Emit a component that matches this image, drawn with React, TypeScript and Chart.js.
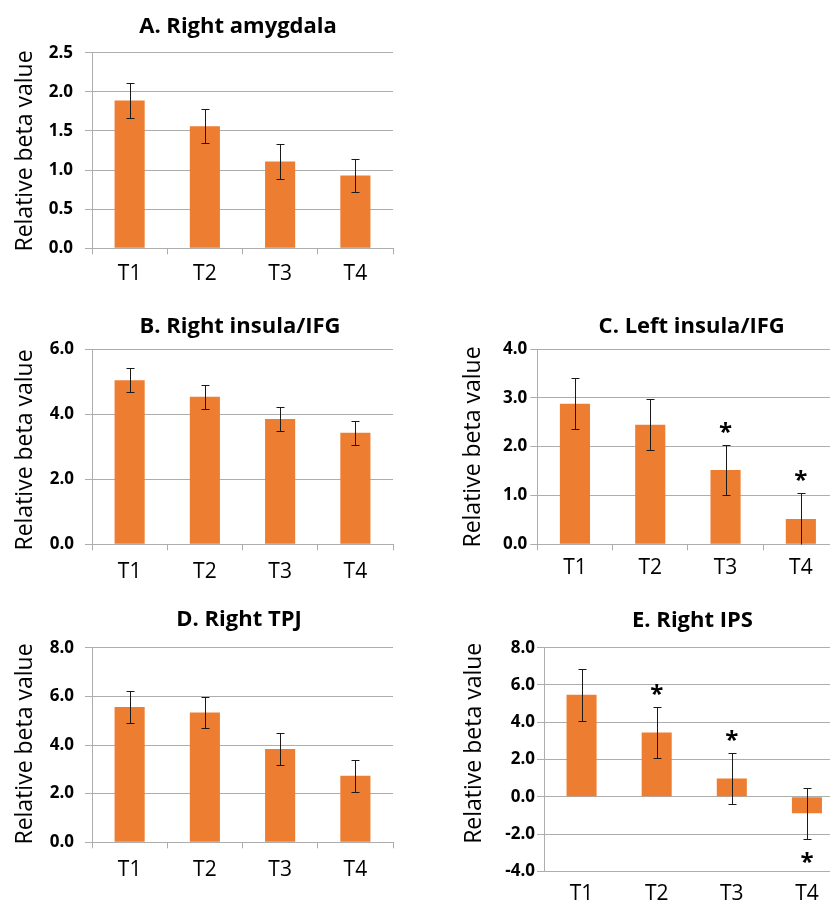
import React, { useEffect, useRef } from "react";
import { Chart, registerables } from "chart.js";

Chart.register(...registerables);

// ---------------- data ----------------
const categories = ["T1", "T2", "T3", "T4"];
const axisTitle = "Relative beta value";

const valuesA = [1.89, 1.56, 1.11, 0.93];
const errorsA = [0.22, 0.22, 0.22, 0.21];
const starsA = [false, false, false, false];

const valuesB = [5.04, 4.53, 3.85, 3.43];
const errorsB = [0.37, 0.36, 0.37, 0.37];
const starsB = [false, false, false, false];

const valuesC = [2.88, 2.45, 1.52, 0.52];
const errorsC = [0.52, 0.52, 0.51, 0.53];
const starsC = [false, false, true, true];

const valuesD = [5.56, 5.34, 3.84, 2.74];
const errorsD = [0.66, 0.65, 0.66, 0.66];
const starsD = [false, false, false, false];

const valuesE = [5.47, 3.45, 0.98, -0.89];
const errorsE = [1.41, 1.39, 1.38, 1.37];
const starsE = [false, true, true, true];

// ---------------- styling ----------------
const FONT = "'Open Sans', Lato, sans-serif";
const BAR = "#ED7D31";
const GRID = "#ADADAD";
const INK = "#000000";
const CW = 870;
const CH = 905;

type Panel = {
  title: string;
  values: number[];
  errors: number[];
  stars: boolean[];
  yMin: number;
  yMax: number;
  yStep: number;
  L: number;
  R: number;
  T: number;
  B: number;
  tx: number;
  ty: number;
  ax: number;
  ay: number;
  tickPad: number;
  labelPad: number;
  xTicks: boolean;
};

const panels: Panel[] = [
  {
    title: "A. Right amygdala", values: valuesA, errors: errorsA, stars: starsA,
    yMin: 0, yMax: 2.5, yStep: 0.5,
    L: 92, R: 393, T: 52.7, B: 248.3, tx: 238, ty: 33.3, ax: 31.7, ay: 151,
    tickPad: 12, labelPad: 7.5, xTicks: true,
  },
  {
    title: "B. Right insula/IFG", values: valuesB, errors: errorsB, stars: starsB,
    yMin: 0, yMax: 6, yStep: 2,
    L: 92, R: 393, T: 349, B: 544.3, tx: 240, ty: 332.7, ax: 31.7, ay: 450,
    tickPad: 11, labelPad: 9, xTicks: true,
  },
  {
    title: "C. Left insula/IFG", values: valuesC, errors: errorsC, stars: starsC,
    yMin: 0, yMax: 4, yStep: 1,
    L: 537.3, R: 838.5, T: 349, B: 544.3, tx: 691.7, ty: 333.3, ax: 480, ay: 447,
    tickPad: 3, labelPad: 5.2, xTicks: true,
  },
  {
    title: "D. Right TPJ", values: valuesD, errors: errorsD, stars: starsD,
    yMin: 0, yMax: 8, yStep: 2,
    L: 92, R: 393, T: 647.7, B: 842.3, tx: 239, ty: 626, ax: 31.7, ay: 744,
    tickPad: 11, labelPad: 9.3, xTicks: true,
  },
  {
    title: "E. Right IPS", values: valuesE, errors: errorsE, stars: starsE,
    yMin: -4, yMax: 8, yStep: 2,
    L: 544, R: 844.5, T: 647.7, B: 871.3, tx: 692.5, ty: 626.7, ax: 480.7, ay: 743.3,
    tickPad: 2, labelPad: 10.5, xTicks: false,
  },
];

// plugin: error bars, significance stars, panel title and axis title
const decoPlugin = {
  id: "panelDeco",
  afterDatasetsDraw(chart: any, _args: any, opts: any) {
    const p: Panel = opts.panel;
    if (!p) return;
    const ctx = chart.ctx;
    const yScale = chart.scales.y;
    const meta = chart.getDatasetMeta(0);
    const area = chart.chartArea;
    ctx.save();
    ctx.beginPath();
    ctx.rect(area.left, area.top - 40, area.right - area.left, area.bottom - area.top + 80);
    ctx.clip();
    meta.data.forEach((bar: any, i: number) => {
      const v = p.values[i];
      const e = p.errors[i];
      const x = Math.round(bar.x) + 0.5;
      const yHi = yScale.getPixelForValue(v + e);
      const yLo = yScale.getPixelForValue(v - e);
      const hiIn = v + e <= p.yMax;
      const loIn = v - e >= p.yMin;
      const top = Math.max(yHi, area.top);
      const bot = Math.min(yLo, area.bottom);
      ctx.strokeStyle = "#1a1a1a";
      ctx.lineWidth = 1;
      ctx.beginPath();
      ctx.moveTo(x, Math.round(top) + 0.5);
      ctx.lineTo(x, Math.round(bot) + 0.5);
      if (hiIn) {
        ctx.moveTo(x - 4, Math.round(yHi) + 0.5);
        ctx.lineTo(x + 4, Math.round(yHi) + 0.5);
      }
      if (loIn) {
        ctx.moveTo(x - 4, Math.round(yLo) + 0.5);
        ctx.lineTo(x + 4, Math.round(yLo) + 0.5);
      }
      ctx.stroke();
      if (p.stars[i]) {
        ctx.fillStyle = INK;
        ctx.font = `bold 24px ${FONT}`;
        ctx.textAlign = "center";
        ctx.textBaseline = "alphabetic";
        const sy = v >= 0 ? yHi - 18 : yLo + 18;
        ctx.fillText("*", bar.x, sy + 13);
      }
    });
    ctx.restore();
  },
  afterDraw(chart: any, _args: any, opts: any) {
    const p: Panel = opts.panel;
    if (!p) return;
    const ctx = chart.ctx;
    ctx.save();
    ctx.fillStyle = INK;
    ctx.font = `bold 22px ${FONT}`;
    ctx.textAlign = "center";
    ctx.textBaseline = "alphabetic";
    ctx.fillText(p.title, p.tx, p.ty);
    ctx.translate(p.ax, p.ay);
    ctx.rotate(-Math.PI / 2);
    ctx.font = `23px ${FONT}`;
    ctx.fillText(axisTitle, 0, 0);
    ctx.restore();
  },
};

function PanelChart({ panel }: { panel: Panel }) {
  const ref = useRef<HTMLCanvasElement | null>(null);
  useEffect(() => {
    if (!ref.current) return;
    const chart = new Chart(ref.current, {
      type: "bar",
      data: {
        labels: categories,
        datasets: [
          {
            data: panel.values,
            backgroundColor: BAR,
            borderWidth: 0,
            barPercentage: 0.4,
            categoryPercentage: 1.0,
          },
        ],
      },
      options: {
        responsive: false,
        animation: false,
        devicePixelRatio: 1,
        events: [],
        layout: {
          padding: { left: 0, right: CW - panel.R, top: panel.T, bottom: 0 },
        },
        plugins: {
          legend: { display: false },
          tooltip: { enabled: false },
          title: { display: false },
          panelDeco: { panel },
        } as any,
        scales: {
          x: {
            offset: true,
            grid: {
              offset: true,
              drawOnChartArea: false,
              drawTicks: panel.xTicks,
              tickLength: 6,
              color: GRID,
            },
            border: { color: GRID, width: 1 },
            ticks: {
              color: INK,
              font: { family: FONT, size: 21 },
              padding: panel.labelPad,
              maxRotation: 0,
            },
            afterFit: (s: any) => {
              s.height = CH - panel.B;
            },
          },
          y: {
            min: panel.yMin,
            max: panel.yMax,
            grid: { color: GRID, tickLength: 7, drawTicks: true },
            border: { color: GRID, width: 1 },
            ticks: {
              stepSize: panel.yStep,
              color: INK,
              font: { family: FONT, size: 17, weight: "bold" },
              padding: panel.tickPad,
              callback: (v: any) => Number(v).toFixed(1),
            },
            afterFit: (s: any) => {
              s.width = panel.L;
            },
          },
        },
      },
      plugins: [decoPlugin],
    } as any);
    return () => chart.destroy();
  }, [panel]);
  return (
    <canvas
      ref={ref}
      width={CW}
      height={CH}
      style={{ position: "absolute", left: 0, top: 0, width: CW, height: CH }}
    />
  );
}

export default function App() {
  return (
    <div
      style={{
        position: "absolute",
        left: 0,
        top: 0,
        width: 830,
        height: 905,
        overflow: "hidden",
        background: "#ffffff",
      }}
    >
      {panels.map((p) => (
        <PanelChart key={p.title} panel={p} />
      ))}
    </div>
  );
}
